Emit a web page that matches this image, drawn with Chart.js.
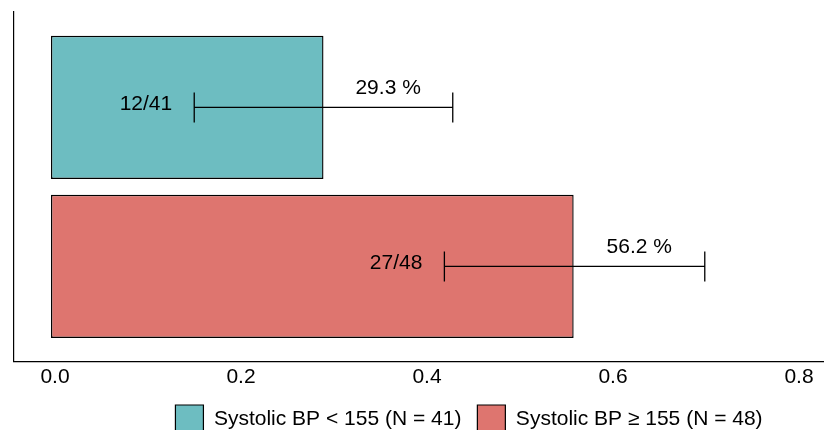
<!DOCTYPE html>
<html>
<head>
<meta charset="utf-8">
<script src="https://cdn.jsdelivr.net/npm/chart.js@4/dist/chart.umd.min.js"></script>
<style>
  html, body { margin: 0; padding: 0; background: #fff; }
  #wrap { width: 824px; height: 430px; }
</style>
</head>
<body>
<div id="wrap"><canvas id="c" width="824" height="430"></canvas></div>
<script>
// Proportion of patients per blood-pressure group, with 95% interval
const groups = ['Systolic BP < 155 (N = 41)', 'Systolic BP \u2265 155 (N = 48)'];
const proportions = [0.293, 0.562];
const ciLower = [0.154, 0.423];
const ciUpper = [0.432, 0.703];
const counts = ['12/41', '27/48'];
const xTicks = [0.0, 0.2, 0.4, 0.6, 0.8];
const colors = ['#6DBDC1', '#DE756F'];

const FONT = '"Liberation Sans", Arial, Helvetica, sans-serif';

// Error bars, count labels and percentage labels drawn on top of the bars
const errorBars = {
  id: 'errorBars',
  afterDatasetsDraw(chart) {
    const { ctx, scales: { x, y } } = chart;
    ctx.save();
    proportions.forEach((p, i) => {
      const yc = y.getPixelForValue(i);
      const x0 = x.getPixelForValue(ciLower[i]);
      const x1 = x.getPixelForValue(ciUpper[i]);
      const xb = x.getPixelForValue(p);
      ctx.strokeStyle = '#000';
      ctx.lineWidth = 1.3;
      ctx.beginPath();
      ctx.moveTo(x0, yc); ctx.lineTo(x1, yc);
      ctx.moveTo(x0, yc - 15); ctx.lineTo(x0, yc + 15);
      ctx.moveTo(x1, yc - 15); ctx.lineTo(x1, yc + 15);
      ctx.stroke();
      ctx.fillStyle = '#000';
      ctx.font = '21px ' + FONT;
      ctx.textBaseline = 'alphabetic';
      ctx.textAlign = 'right';
      ctx.fillText(counts[i], x0 - 22, yc + 3);
      ctx.textAlign = 'center';
      ctx.fillText((p * 100).toFixed(1) + ' %', (xb + x1) / 2, yc - 13.5);
    });
    ctx.restore();
  }
};

// Moves the legend row off-centre, under the plotted bars
const legendShift = {
  id: 'legendShift',
  afterLayout(chart) {
    const lg = chart.legend;
    if (!lg) return;
    const dx = 50, dy = -4;
    lg.left += dx; lg.right += dx;
    lg.top += dy; lg.bottom += dy;
  }
};

new Chart(document.getElementById('c'), {
  type: 'bar',
  data: {
    datasets: groups.map((g, i) => ({
      label: g,
      data: [{ x: proportions[i], y: i }],
      backgroundColor: colors[i],
      borderColor: '#000',
      borderWidth: 1.4,
      borderSkipped: false,
      grouped: false,
      barPercentage: 0.9,
      categoryPercentage: 1
    }))
  },
  options: {
    indexAxis: 'y',
    responsive: false,
    animation: false,
    devicePixelRatio: 1,
    layout: { padding: { top: 12, left: 14, right: 0, bottom: -17 } },
    scales: {
      x: {
        type: 'linear',
        position: 'bottom',
        min: -0.0398,
        max: 0.8312,
        afterBuildTicks: s => { s.ticks = xTicks.map(v => ({ value: v })); },
        ticks: {
          callback: v => Number(v).toFixed(1),
          color: '#000',
          font: { family: FONT, size: 21 },
          padding: 3,
          labelOffset: 4,
          maxRotation: 0,
          autoSkip: false
        },
        grid: { display: false, drawTicks: false },
        border: { display: true, color: '#000', width: 1.2 }
      },
      y: {
        type: 'linear',
        reverse: true,
        offset: false,
        min: -0.6,
        max: 1.6,
        // one tick per group, so the bar band spans the distance between groups
        afterBuildTicks: s => { s.ticks = groups.map((g, i) => ({ value: i })); },
        ticks: { display: false },
        grid: { display: false, drawTicks: false },
        border: { display: true, color: '#000', width: 1.2 }
      }
    },
    plugins: {
      legend: {
        position: 'bottom',
        labels: {
          boxWidth: 28,
          boxHeight: 28,
          padding: 16,
          color: '#000',
          font: { family: FONT, size: 21 },
          generateLabels: chart => chart.data.datasets.map((d, i) => ({
            text: d.label,
            fillStyle: d.backgroundColor,
            strokeStyle: '#000',
            lineWidth: 1.2,
            datasetIndex: i,
            hidden: false
          }))
        }
      },
      tooltip: { enabled: false }
    }
  },
  plugins: [errorBars, legendShift]
});
</script>
</body>
</html>
